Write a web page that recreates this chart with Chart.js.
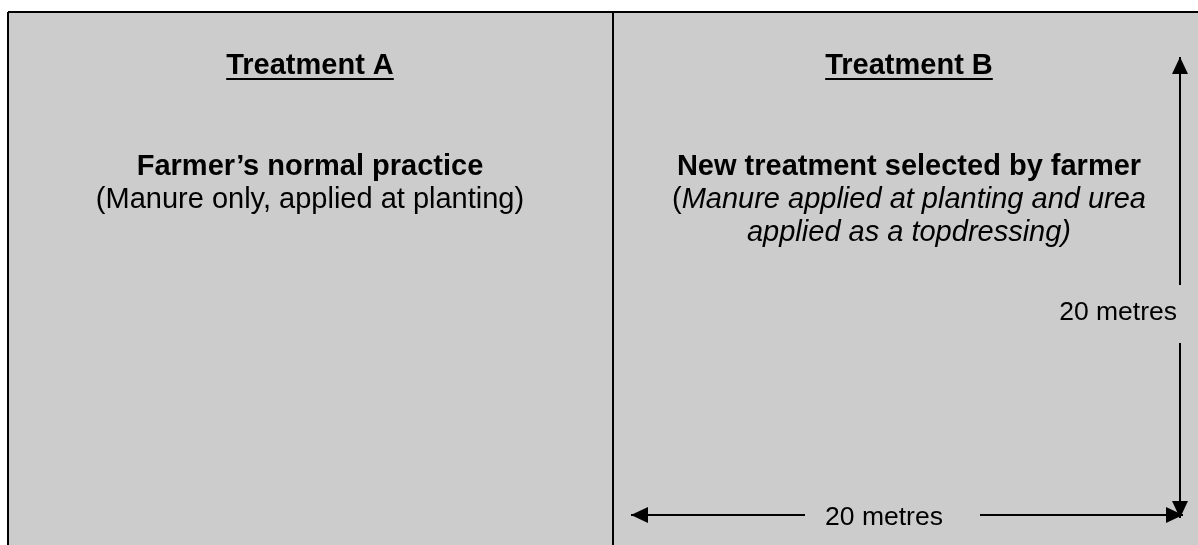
<!DOCTYPE html>
<html>
<head>
<meta charset="utf-8">
<title>Treatment layout</title>
<script src="https://cdn.jsdelivr.net/npm/chart.js@4.4.1/dist/chart.umd.min.js"></script>
<style>
  html, body { margin: 0; padding: 0; background: #fff; }
  canvas { display: block; }
</style>
</head>
<body>
<canvas id="layout-chart" width="1198" height="545"></canvas>
<script>
// diagram content
var panelTitles = ['Treatment A', 'Treatment B'];
var panelPractices = ['Farmer\u2019s normal practice', 'New treatment selected by farmer'];
var panelNotes = [
  [ [['(Manure only, applied at planting)', 'normal']] ],
  [ [['(', 'normal'], ['Manure applied at planting and urea', 'italic']],
    [['applied as a topdressing)', 'italic']] ]
];
var dimensionLabels = ['20 metres', '20 metres'];

// diagram geometry, in drawing units (same range as the axes)
var frameTop = [[8, 12], [1198, 12]];
var frameLeft = [[8, 12], [8, 545]];
var frameDivider = [[613, 12], [613, 545]];
var heightArrow = [[1180, 57], [1180, 285], null, [1180, 343], [1180, 518]];
var widthArrow = [[631, 515], [805, 515], null, [980, 515], [1183, 515]];

// layout bits (text placement)
var layout = {
  panelCentre: [310, 909],
  titleY: 74,
  practiceY: 175,
  noteY: 208,
  lineGap: 33,
  heightLabel: { x: 1177, y: 320, align: 'right' },
  widthLabel: { x: 884, y: 525, align: 'center' }
};

var FONT = '"Liberation Sans", Arial, Helvetica, sans-serif';

function toPoints(list) {
  return list.map(function (p) { return p ? { x: p[0], y: p[1] } : { x: null, y: null }; });
}

function lineSet(list, arrows) {
  return {
    data: toPoints(list),
    borderColor: '#000',
    borderWidth: 2,
    pointRadius: 0,
    spanGaps: false,
    tension: 0,
    clip: false,
    arrows: arrows
  };
}

var backgroundPlugin = {
  id: 'background',
  beforeDraw: function (chart) {
    var c = chart.ctx, sx = chart.scales.x, sy = chart.scales.y;
    c.save();
    c.fillStyle = '#fff';
    c.fillRect(0, 0, chart.width, chart.height);
    var left = sx.getPixelForValue(frameLeft[0][0]);
    var top = sy.getPixelForValue(frameTop[0][1]);
    c.fillStyle = '#cccccc';
    c.fillRect(left, top, chart.width - left, chart.height - top);
    c.restore();
  }
};

var arrowPlugin = {
  id: 'arrowheads',
  afterDatasetsDraw: function (chart) {
    var c = chart.ctx;
    chart.data.datasets.forEach(function (ds, i) {
      if (!ds.arrows) return;
      var pts = chart.getDatasetMeta(i).data;
      var ends = [[pts[0], pts[1]], [pts[pts.length - 1], pts[pts.length - 2]]];
      ends.forEach(function (e) {
        var tip = e[0], from = e[1];
        var a = Math.atan2(tip.y - from.y, tip.x - from.x);
        var len = 17, half = 8;
        c.save();
        c.translate(tip.x, tip.y);
        c.rotate(a);
        c.beginPath();
        c.moveTo(0, 0);
        c.lineTo(-len, -half);
        c.lineTo(-len, half);
        c.closePath();
        c.fillStyle = '#000';
        c.fill();
        c.restore();
      });
    });
  }
};

function fontFor(style, size) {
  if (style === 'bold') return 'bold ' + size + 'px ' + FONT;
  if (style === 'italic') return 'italic ' + size + 'px ' + FONT;
  return size + 'px ' + FONT;
}

function drawRuns(c, runs, cx, y, size) {
  var total = 0;
  runs.forEach(function (r) { c.font = fontFor(r[1], size); total += c.measureText(r[0]).width; });
  var x = cx - total / 2;
  runs.forEach(function (r) {
    c.font = fontFor(r[1], size);
    c.fillText(r[0], x, y);
    x += c.measureText(r[0]).width;
  });
}

var textPlugin = {
  id: 'panelText',
  afterDatasetsDraw: function (chart) {
    var c = chart.ctx, sx = chart.scales.x, sy = chart.scales.y;
    c.save();
    c.fillStyle = '#000';
    c.textBaseline = 'alphabetic';
    c.textAlign = 'left';
    panelTitles.forEach(function (title, i) {
      var cx = sx.getPixelForValue(layout.panelCentre[i]);
      var ty = sy.getPixelForValue(layout.titleY);
      c.font = fontFor('bold', 29);
      var w = c.measureText(title).width;
      c.fillText(title, cx - w / 2, ty);
      c.fillRect(cx - w / 2, ty + 4, w, 2);

      drawRuns(c, [[panelPractices[i], 'bold']], cx, sy.getPixelForValue(layout.practiceY), 29);
      panelNotes[i].forEach(function (runs, k) {
        drawRuns(c, runs, cx, sy.getPixelForValue(layout.noteY + k * layout.lineGap), 29);
      });
    });

    c.font = fontFor('normal', 26.5);
    [layout.heightLabel, layout.widthLabel].forEach(function (p, i) {
      c.textAlign = p.align;
      c.fillText(dimensionLabels[i], sx.getPixelForValue(p.x), sy.getPixelForValue(p.y));
    });
    c.restore();
  }
};

var layoutChart = new Chart(document.getElementById('layout-chart'), {
  type: 'line',
  data: {
    datasets: [
      lineSet(frameTop, false),
      lineSet(frameLeft, false),
      lineSet(frameDivider, false),
      lineSet(heightArrow, true),
      lineSet(widthArrow, true)
    ]
  },
  options: {
    responsive: false,
    animation: false,
    events: [],
    layout: { padding: 0 },
    plugins: {
      legend: { display: false },
      tooltip: { enabled: false },
      title: { display: false }
    },
    scales: {
      x: { type: 'linear', min: 0, max: 1198, display: false },
      y: { type: 'linear', min: 0, max: 545, reverse: true, display: false }
    }
  },
  plugins: [backgroundPlugin, arrowPlugin, textPlugin]
});
</script>
</body>
</html>
